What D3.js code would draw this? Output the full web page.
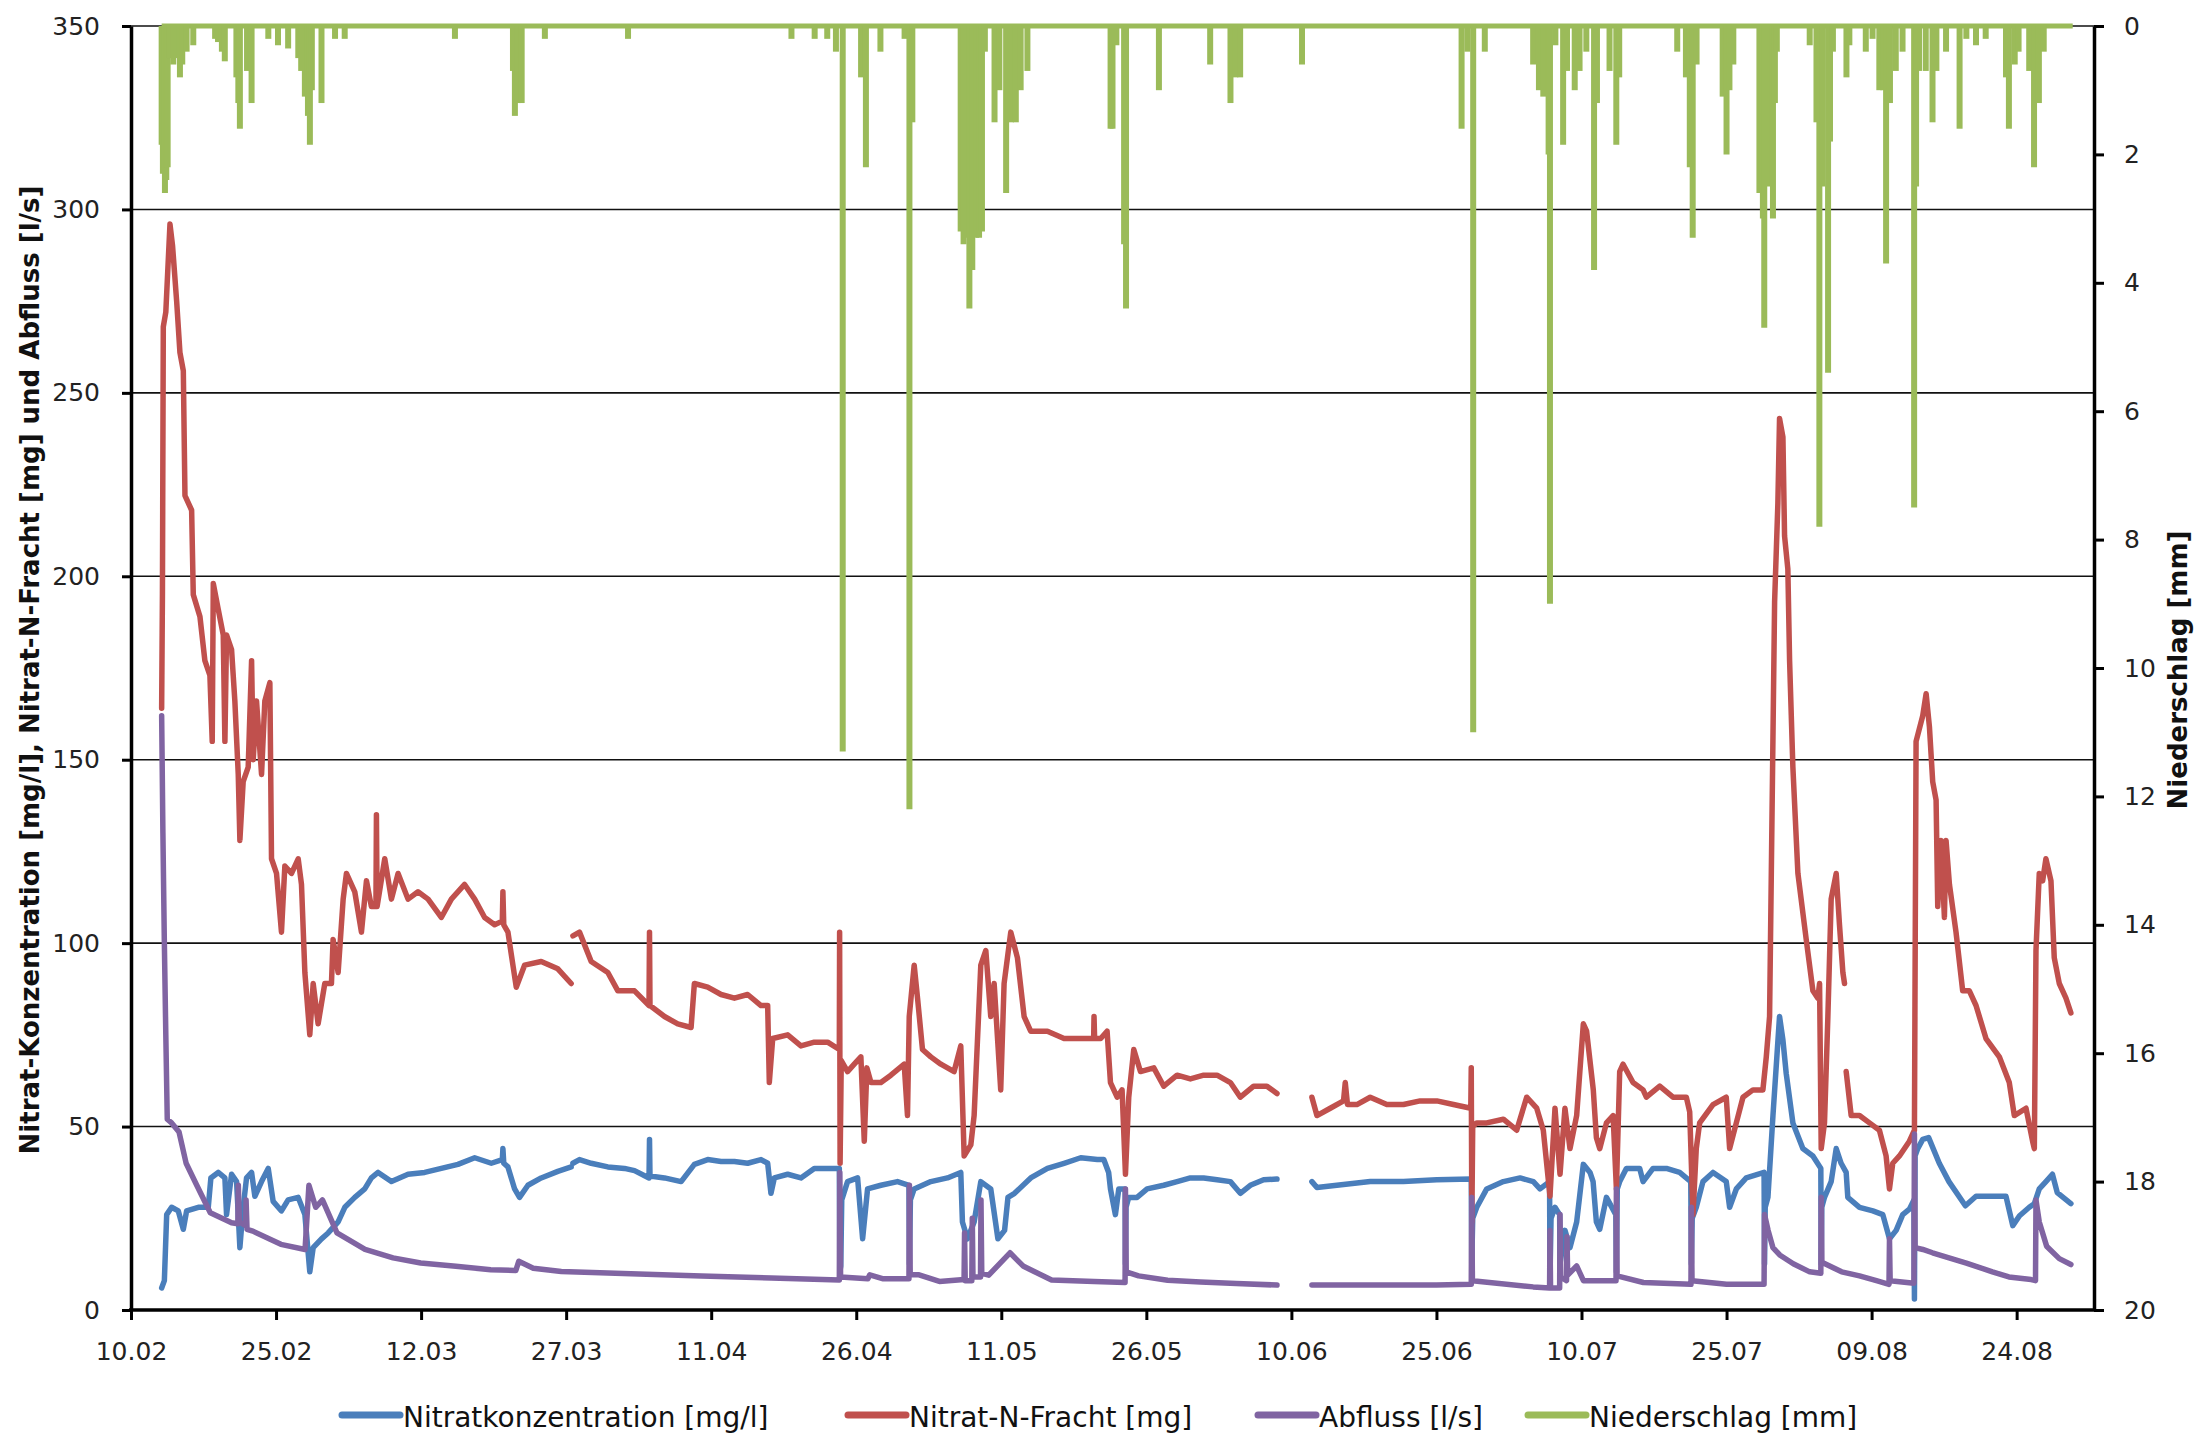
<!DOCTYPE html>
<html>
<head>
<meta charset="utf-8">
<script src="https://cdn.jsdelivr.net/npm/d3@7"></script>
<style>
  body { margin: 0; background: #fff; }
  text { font-family: "DejaVu Sans", "Verdana", sans-serif; }
</style>
</head>
<body>
<svg id="chart" width="2206" height="1436"></svg>
<script>
// day offsets are counted from the first tick (10.02)
var startDate = "10.02.2015";
var endDay = 203;
var xTickLabels = ["10.02","25.02","12.03","27.03","11.04","26.04","11.05","26.05","10.06","25.06","10.07","25.07","09.08","24.08"];
var leftTicks = [0, 50, 100, 150, 200, 250, 300, 350];
var rightTicks = [0, 2, 4, 6, 8, 10, 12, 14, 16, 18, 20];

var seriesNames = ["Nitratkonzentration [mg/l]", "Nitrat-N-Fracht [mg]", "Abfluss [l/s]", "Niederschlag [mm]"];
var seriesColors = ["#4a7ebb", "#c0504d", "#8064a2", "#9bbb59"];

var nitrat = [[3.17,6],[3.45,8],[3.69,26],[4.2,28],[4.89,27],[5.41,22],[5.75,27],[6.96,28],[7.99,28],[8.26,36],[9.02,37.5],[9.71,36],[9.88,26],
  [10.4,37],[10.92,35],[11.26,17],[11.6,28],[11.95,36],[12.47,37.5],[12.81,31],[13.5,35],[14.19,38.6],[14.7,29.6],[15.56,27],[16.25,30],[17.29,30.7],
  [17.98,26],[18.49,10.4],[18.84,17],[19.7,19.4],[20.39,21],[21.42,24],[22.11,28],[23.14,30.7],[24.17,33],[24.86,36],[25.55,37.5],[26.93,35],
  [28.65,37],[30.37,37.5],[32.09,38.6],[33.81,39.7],[35.54,41.5],[37.26,40],[38.4,41],[38.46,44],[38.55,40],[38.98,39],[39.67,33],[40.18,30.7],
  [41.05,34],[42.42,36],[44.14,37.8],[45.52,39],[45.6,null],[45.7,40],[46.38,41],[47.59,40],[49.31,39],[51.03,38.6],[52.07,38],[53.57,36],
  [53.62,46.5],[53.67,36.5],[55.17,36],[56.89,35],[58.26,39.7],[59.64,41],[61.02,40.5],[62.4,40.5],[63.77,40],[65.15,41],[65.84,40],[66.18,31.8],
  [66.53,36],[67.91,37],[69.28,36],[70.66,38.6],[72.04,38.6],[73.25,38.6],[73.3,10.4],[73.4,12],[73.5,30],[74.1,35],[75.14,36],[75.66,19.4],
  [76.17,33],[77.55,34],[79.27,35],[80.45,34],[80.5,12.6],[80.6,30],[80.99,33],[82.71,35],[84.43,36],[85.81,37.5],[85.98,24],[86.5,19.4],
  [87.19,24],[87.88,35],[88.91,33],[89.65,19.4],[90.34,21.7],[90.69,30.7],[91.37,31.8],[93.04,36],[94.77,38.6],[96.49,40],[98.21,41.5],
  [99.93,41],[100.6,41],[101.1,37.5],[101.29,33],[101.8,26],[102.15,33],[102.8,33],[102.84,12.6],[102.9,28],[103.18,30.7],[104.04,30.7],
  [105.08,33],[106.8,34],[108.18,35],[109.55,36],[110.93,36],[112.31,35.5],[113.69,35],[114.72,31.8],[115.75,34],[117.13,35.5],[118.51,35.7],
  [118.7,null],[122.12,35],[122.64,33.4],[124.7,34],[128.15,35],[131.59,35],[135.04,35.5],[138.6,35.7],[138.65,12.6],[138.75,25],[139.17,28],
  [140.2,33],[141.92,35],[143.65,36],[145.02,35],[145.71,33],[146.7,35],[146.74,8],[146.85,25],[147.26,28],[147.74,26],[147.78,12.6],
  [148.29,21.7],[148.81,17],[149.5,24],[150.19,39.7],[150.88,37.5],[151.2,35],[151.54,24],[151.89,22],[152.58,30.7],[153.55,26],[153.61,10.4],
  [153.7,33],[153.95,35],[154.64,38.6],[156.02,38.6],[156.37,35],[157.4,38.6],[158.78,38.6],[160.15,37.5],[161.3,35],[161.36,12.6],[161.45,25],
  [161.87,28],[162.56,35],[163.6,37.5],[164.97,35],[165.32,28],[166.01,33],[167.04,36],[168.88,37.5],[168.93,12.6],[169.0,28],[169.28,30.7],
  [169.8,53],[170.48,80],[170.83,73.6],[171.17,64.5],[171.86,51],[172.89,44],[173.93,42],[174.75,38.6],[174.79,12.6],[174.85,28],[175.13,30.7],
  [175.82,35],[176.34,44],[176.85,40],[177.37,37.5],[177.54,30.7],[178.75,28],[180.13,27],[181.16,26],[181.85,19.4],[182.54,21.7],[183.22,26],
  [183.91,27.5],[184.38,30],[184.43,3],[184.5,42],[184.77,44],[185.29,46.5],[185.9,47],[187.0,40],[188.0,35],[189.7,28.4],[190.8,31],
  [192.5,31],[193.9,31],[194.6,23],[195.3,25.7],[196.31,28],[196.83,29],[197.34,33],[198.03,35],[198.7,37],[199.2,32],[200.61,29]];

var fracht = [[3.17,164],[3.25,195],[3.34,268],[3.6,272],[4.03,296],[4.3,290],[4.72,275],[5.06,261],[5.41,256],[5.58,222],[6.27,218],[6.44,195],
  [7.13,189],[7.64,177],[8.16,173],[8.4,155],[8.51,198],[9.02,191],[9.54,184],[9.71,155],[9.88,184],[10.4,180],[10.74,166],[11.09,146],[11.26,128],
  [11.6,144],[12.12,148],[12.47,177],[12.64,150],[12.98,166],[13.5,146],[13.84,166],[14.36,171],[14.53,123],[15.05,119],[15.56,103],[15.91,121],
  [16.6,119],[17.29,123],[17.63,116],[17.98,92],[18.49,75],[18.84,89],[19.35,78],[20.04,89],[20.73,89],[20.9,101],[21.42,92],[21.94,112],
  [22.28,119],[23.14,114],[23.83,103],[24.35,117],[24.86,110],[25.33,110],[25.38,135],[25.45,110],[26.24,123],[26.93,112],[27.62,119],
  [28.65,112],[29.68,114],[30.72,112],[32.09,107],[33.13,112],[34.5,116],[35.54,112],[36.57,107],[37.6,105],[38.4,106],[38.46,114],[38.55,105],
  [38.98,103],[39.84,88],[40.7,94],[42.42,95],[44.14,93],[45.52,89],[45.6,null],[45.7,102],[46.38,103],[47.59,95],[49.31,92],[50.35,87],
  [51.03,87],[52.07,87],[53.57,83],[53.62,103],[53.67,83],[55.17,80],[56.54,78],[57.92,77],[58.26,89],[59.64,88],[61.02,86],[62.4,85],
  [63.77,86],[65.15,83],[65.84,83],[66.01,62],[66.36,74],[67.91,75],[69.28,72],[70.66,73],[72.04,73],[73.25,71],[73.28,103],[73.33,40],
  [73.45,68],[74.1,65],[74.79,67],[75.48,69],[75.83,46],[76.1,66],[76.52,62],[77.55,62],[78.58,64],[79.96,67],[80.3,53],[80.48,80],[80.99,94],
  [81.34,85],[81.85,71],[82.71,69],[83.75,67],[85.12,65],[85.81,72],[86.16,42],[86.85,45],[87.19,53],[87.88,94],[88.4,98],[88.91,80],
  [89.26,89],[89.94,60],[90.29,89],[90.98,103],[91.67,96],[92.36,80],[93.04,76],[94.77,76],[96.49,74],[98.21,74],[99.55,74],[99.59,80],
  [99.65,74],[100.28,74],[100.94,76],[101.29,62],[101.98,58],[102.49,60],[102.84,37],[103.18,58],[103.7,71],[104.39,65],[105.77,66],
  [106.8,61],[108.18,64],[109.55,63],[110.93,64],[112.31,64],[113.69,62],[114.72,58],[116.1,61],[117.47,61],[118.51,59],[118.7,null],
  [122.12,58],[122.64,53],[124.02,55],[125.39,57],[125.57,62],[125.8,56],[126.77,56],[128.15,58],[129.87,56],[131.59,56],[133.31,57],
  [135.04,57],[136.76,56],[138.55,55],[138.6,66],[138.66,24],[138.75,50],[139.17,51],[140.2,51],[141.92,52],[143.3,49],[144.33,58],
  [145.37,55],[146.05,49],[146.74,31],[147.26,55],[147.78,37],[148.29,55],[148.81,44],[149.5,53],[150.19,78],[150.53,76],[151.22,60],
  [151.54,47],[151.89,44],[152.58,51],[153.27,53],[153.61,33],[153.95,65],[154.3,67],[155.33,62],[156.37,60],[156.71,58],[158.09,61],
  [159.46,58],[160.84,58],[161.19,54],[161.53,26],[161.87,44],[162.22,51],[163.6,56],[164.97,58],[165.32,44],[166.01,51],[166.7,58],
  [167.73,60],[168.76,60],[169.11,69],[169.45,80],[169.97,193],[170.31,220],[170.48,243],[170.83,238],[171.0,211],[171.34,202],[171.52,177],
  [171.86,148],[172.38,119],[173.24,101],[173.93,87],[174.44,85],[174.62,89],[174.79,44],[175.13,51],[175.48,80],[175.82,112],[176.34,119],
  [176.68,105],[177.03,92],[177.2,89],[177.3,null],[177.37,65],[177.89,53],[178.75,53],[179.78,51],[180.81,49],[181.5,42],[181.85,33],
  [182.19,40],[182.88,42],[183.91,46],[184.43,49],[184.6,155],[185.29,162],[185.64,168],[185.98,159],[186.32,144],[186.67,139],[186.84,110],
  [187.18,128],[187.53,107],[187.7,128],[188.05,116],[188.73,103],[189.42,87],[190.11,87],[190.8,83],[191.83,74],[193.21,69],[194.24,62],
  [194.76,53],[195.97,55],[196.65,46],[196.83,44],[197.0,98],[197.34,119],[197.69,117],[198.03,123],[198.55,117],[198.89,96],[199.41,89],
  [200.1,85],[200.61,81]];

var abfluss = [[3.17,162],[3.3,130],[3.45,100],[3.6,75],[3.75,52],[4.2,51],[4.97,48.5],[5.7,40],[6.8,34],[8.2,26.5],[10.4,23.8],[11.05,23.5],
  [11.1,34],[11.2,24],[11.85,23],[11.9,30],[12.0,22],[12.6,21.5],[15.5,17.9],[18.0,16.5],[18.4,34],[19.1,28],[19.8,30],[21.3,21],[24.2,16.5],
  [27.1,14.2],[29.96,12.8],[33.6,11.9],[37.2,11],[39.8,10.8],[40.1,13.3],[41.6,11.4],[44.5,10.5],[51.7,9.9],[59,9.3],[66.2,8.7],[73.25,8.2],
  [73.3,37.5],[73.38,9],[76.2,8.5],[76.4,9.6],[77.8,8.5],[80.45,8.5],[80.5,34],[80.58,9.6],[81.5,9.6],[83.6,7.8],[86.15,8.3],[86.2,21],
  [86.27,8],[86.95,8],[87.0,25],[87.07,9],[87.85,9],[87.9,30],[87.98,10],[88.7,9.5],[90.9,15.6],[92.3,11.9],[95.2,8.2],[99.6,7.8],[102.8,7.5],
  [102.84,33],[102.92,10.4],[104.2,9.3],[107.2,8.1],[110.6,7.6],[114.3,7.2],[118.51,6.8],[118.7,null],[122.12,6.8],[128,6.8],[135,6.8],
  [138.6,7],[138.65,30.7],[138.72,8],[145,6.3],[146.7,6],[146.74,21.7],[146.8,6],[147.74,6],[147.78,26],[147.85,9],[148.45,8],[148.5,20],
  [148.57,9.5],[149.5,12],[150.2,8],[151.2,8],[153.57,8],[153.61,33],[153.68,9.3],[156.4,7.5],[161.32,7],[161.36,28],[161.43,8],[165,7],
  [168.88,7],[168.93,26],[169.3,21.7],[169.8,17],[170.5,15],[171.9,12.6],[173.6,10.4],[174.75,10],[174.79,30.7],[174.86,13],[176.9,10.4],
  [178.75,9.3],[180.5,8],[181.8,7],[181.85,19.4],[181.92,8],[184.38,7.3],[184.43,48],[184.5,17],[185.3,16.5],[186.3,15.6],[189.8,12.8],
  [192.5,10.4],[194.2,9],[196.5,8.3],[196.95,8],[197.0,30],[197.34,24],[198.1,17.4],[199.41,14],[200.61,12.4]];

// precipitation events [day, mm]; the rest of the time the series sits on 0
var niederschlag = [[3.17,1.85],[3.3,2.3],[3.51,2.6],[3.65,2.4],[3.79,2.2],[4.0,0.5],[4.37,0.6],[4.6,0.5],[5.06,0.8],[5.3,0.6],[5.75,0.4],
  [6.44,0.3],[8.7,0.2],[9.0,0.25],[9.4,0.4],[9.7,0.55],[10.9,0.8],[11.1,1.2],[11.26,1.6],[12.0,0.7],[12.47,1.2],[14.2,0.2],[15.2,0.3],
  [16.25,0.35],[17.3,0.5],[17.6,0.7],[17.98,1.1],[18.3,1.4],[18.5,1.85],[18.7,1.0],[19.7,1.2],[21.1,0.2],[22.1,0.2],[33.5,0.2],[39.5,0.7],
  [39.7,1.4],[40.0,1.2],[40.4,1.2],[42.8,0.2],[51.4,0.2],[68.3,0.2],[70.7,0.2],[72.0,0.2],[72.9,0.4],[73.6,11.3],[75.5,0.8],[76.0,2.2],
  [77.5,0.4],[80.0,0.2],[80.5,12.2],[80.8,1.5],[85.8,3.2],[86.1,3.4],[86.4,3.3],[86.7,4.4],[87.0,3.8],[87.4,3.3],[87.7,3.3],[88.0,3.2],
  [88.3,0.4],[89.3,1.5],[89.8,1.0],[90.5,2.6],[91.0,1.5],[91.5,1.5],[92.0,1.0],[92.7,0.7],[101.3,1.6],[101.5,1.6],[101.9,0.3],[102.7,3.4],
  [102.9,4.4],[106.3,1.0],[111.6,0.6],[113.7,1.2],[114.2,0.8],[114.7,0.8],[121.1,0.6],[137.6,1.6],[138.2,0.4],[138.8,11.0],[140.0,0.4],
  [145.0,0.6],[145.6,1.0],[146.05,1.1],[146.6,2.0],[146.74,9.0],[147.3,0.3],[148.1,1.85],[148.5,0.7],[149.3,1.0],[149.8,0.7],[150.5,0.4],
  [151.3,3.8],[151.6,1.2],[152.9,0.7],[153.6,1.85],[153.9,0.8],[159.9,0.4],[160.8,0.8],[161.2,2.2],[161.5,3.3],[161.9,0.6],[164.6,1.1],
  [165.0,2.0],[165.3,1.0],[165.7,0.6],[168.4,2.6],[168.76,3.0],[168.9,4.7],[169.3,2.5],[169.8,3.0],[170.0,1.2],[170.2,0.4],[173.6,0.3],
  [174.3,1.5],[174.6,7.8],[174.9,2.5],[175.5,5.4],[175.7,1.8],[176.0,0.4],[177.4,0.8],[177.7,0.3],[179.4,0.4],[180.1,0.2],[180.8,1.0],
  [181.2,1.0],[181.5,3.7],[181.9,1.2],[182.5,0.7],[183.2,0.4],[184.4,7.5],[184.6,2.5],[184.9,0.7],[185.6,0.7],[186.3,1.5],[186.7,0.7],
  [187.7,0.4],[189.1,1.6],[189.8,0.2],[190.8,0.3],[191.8,0.2],[193.9,0.8],[194.2,1.6],[194.8,0.6],[195.2,0.4],[196.3,0.7],[196.8,2.2],
  [197.3,1.2],[197.8,0.4]];
var rainFirstDay = 3.17, rainLastDay = 200.8;

// layout (plot box)
var plotLeft = 131, plotRight = 2094, plotTop = 26, plotBottom = 1310;
var svg = d3.select("#chart");
svg.append("rect").attr("width", 2206).attr("height", 1436).attr("fill", "#fff");

var parse = d3.utcParse("%d.%m.%Y");
var t0 = parse(startDate);
var dayToDate = function(d){ return new Date(t0.getTime() + d * 864e5); };

var x = d3.scaleUtc().domain([t0, dayToDate(endDay)]).range([plotLeft, plotRight]);
var yL = d3.scaleLinear().domain([0, 350]).range([plotBottom, plotTop]);
var yR = d3.scaleLinear().domain([0, 20]).range([plotTop, plotBottom]);

// grid
svg.append("g").selectAll("line").data(leftTicks.slice(1)).enter()
  .append("line")
  .attr("x1", plotLeft).attr("x2", plotRight)
  .attr("y1", function(d){ return yL(d); }).attr("y2", function(d){ return yL(d); })
  .attr("stroke", "#111").attr("stroke-width", 1.6);

// series
var line = d3.line()
  .defined(function(d){ return d[1] != null; })
  .x(function(d){ return x(dayToDate(d[0])); })
  .y(function(d){ return yL(d[1]); });

var lineData = [nitrat, fracht, abfluss];
lineData.forEach(function(s, i){
  svg.append("path").datum(s)
    .attr("d", line)
    .attr("fill", "none")
    .attr("stroke", seriesColors[i])
    .attr("stroke-width", 5.5)
    .attr("stroke-linejoin", "round")
    .attr("stroke-linecap", "round");
});

// precipitation, hanging from the top on the right axis
var rain = svg.append("g");
rain.append("line")
  .attr("x1", x(dayToDate(rainFirstDay))).attr("x2", x(dayToDate(rainLastDay)))
  .attr("y1", yR(0)).attr("y2", yR(0))
  .attr("stroke", seriesColors[3]).attr("stroke-width", 5);
rain.selectAll("line.drop").data(niederschlag).enter()
  .append("line").attr("class", "drop")
  .attr("x1", function(d){ return x(dayToDate(d[0])); })
  .attr("x2", function(d){ return x(dayToDate(d[0])); })
  .attr("y1", yR(0))
  .attr("y2", function(d){ return yR(d[1]); })
  .attr("stroke", seriesColors[3]).attr("stroke-width", 6);

// axes
var tickDates = xTickLabels.map(function(l){ return parse(l + ".2015"); });
var axB = svg.append("g").attr("transform", "translate(0," + plotBottom + ")")
  .call(d3.axisBottom(x).tickValues(tickDates)
    .tickFormat(function(d, i){ return xTickLabels[i]; })
    .tickSize(10).tickSizeOuter(0).tickPadding(22));

var axL = svg.append("g").attr("transform", "translate(" + plotLeft + ",0)")
  .call(d3.axisLeft(yL).tickValues(leftTicks).tickSize(9).tickSizeOuter(0).tickPadding(22));

var axR = svg.append("g").attr("transform", "translate(" + plotRight + ",0)")
  .call(d3.axisRight(yR).tickValues(rightTicks).tickSize(10).tickSizeOuter(0).tickPadding(20));

[axB, axL, axR].forEach(function(a){
  a.select(".domain").attr("stroke", "#000").attr("stroke-width", 3.5);
  a.selectAll(".tick line").attr("stroke", "#000").attr("stroke-width", 3);
  a.selectAll("text").attr("font-family", "'DejaVu Sans', sans-serif")
    .attr("font-size", 25).attr("fill", "#222");
});
// the bottom axis spans the full width
axB.select(".domain").attr("d", "M" + (plotLeft - 2) + ",0H" + (plotRight + 2));

// axis titles
svg.append("text")
  .attr("transform", "translate(30,670) rotate(-90)")
  .attr("text-anchor", "middle").attr("dy", "0.35em")
  .attr("font-weight", "bold").attr("font-size", 26).attr("fill", "#111")
  .text("Nitrat-Konzentration [mg/l], Nitrat-N-Fracht [mg] und Abfluss [l/s]");

svg.append("text")
  .attr("transform", "translate(2178,670) rotate(-90)")
  .attr("text-anchor", "middle").attr("dy", "0.35em")
  .attr("font-weight", "bold").attr("font-size", 26).attr("fill", "#111")
  .text("Niederschlag [mm]");

// legend
var legendX = [340, 846, 1256, 1526];
var legend = svg.append("g").attr("transform", "translate(0,1415)");
seriesNames.forEach(function(name, i){
  var g = legend.append("g").attr("transform", "translate(" + legendX[i] + ",0)");
  g.append("line").attr("x1", 2).attr("x2", 60).attr("y1", 0).attr("y2", 0)
    .attr("stroke", seriesColors[i]).attr("stroke-width", 7).attr("stroke-linecap", "round");
  g.append("text").attr("x", 63).attr("y", 12)
    .attr("font-size", 28).attr("fill", "#111").text(name);
});
</script>
</body>
</html>
